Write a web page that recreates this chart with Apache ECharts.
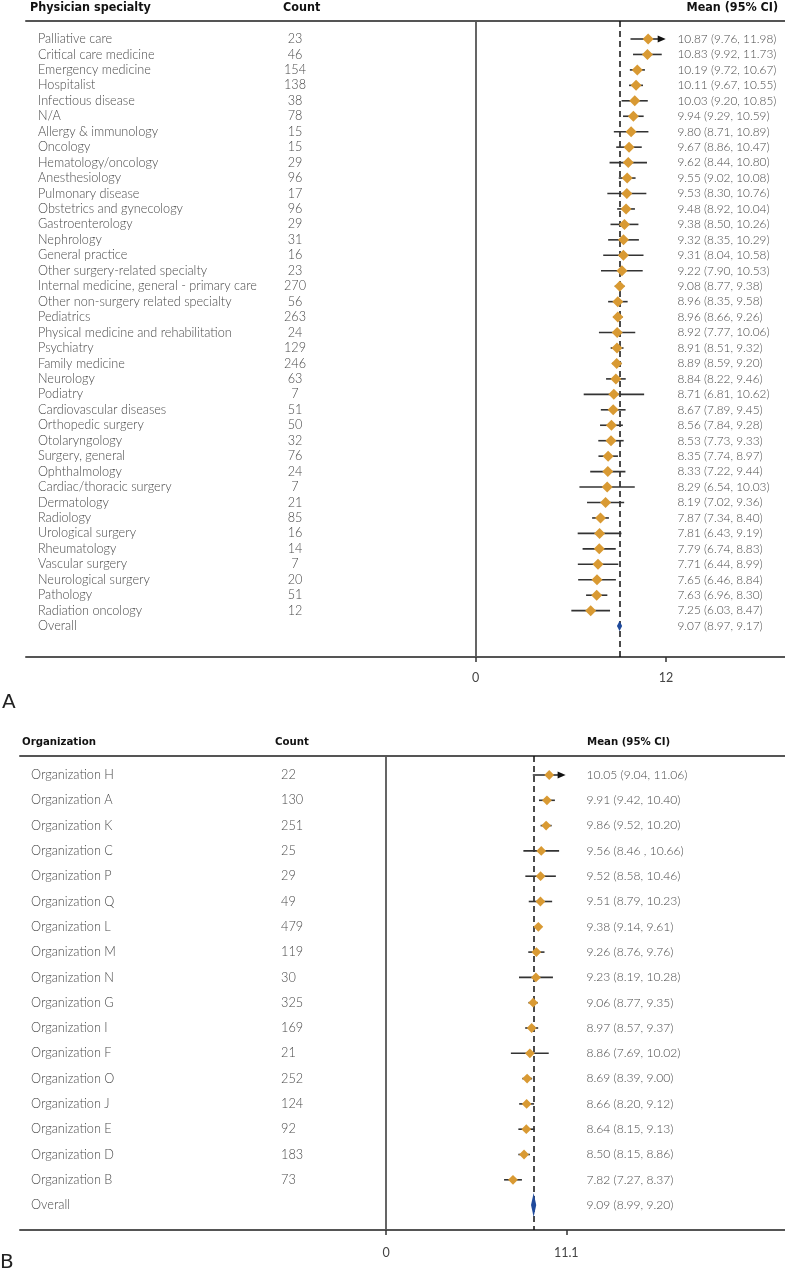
<!DOCTYPE html>
<html>
<head>
<meta charset="utf-8">
<script src="https://cdn.jsdelivr.net/npm/echarts@6/dist/echarts.min.js"></script>
<style>
html,body{margin:0;padding:0;background:#fff;}
#chart{width:785px;height:1275px;}
</style>
</head>
<body>
<div id="chart"></div>
<script>
// ---------------- Panel A data ----------------
const specialties = ["Palliative care","Critical care medicine","Emergency medicine","Hospitalist","Infectious disease","N/A","Allergy & immunology","Oncology","Hematology/oncology","Anesthesiology","Pulmonary disease","Obstetrics and gynecology","Gastroenterology","Nephrology","General practice","Other surgery-related specialty","Internal medicine, general - primary care","Other non-surgery related specialty","Pediatrics","Physical medicine and rehabilitation","Psychiatry","Family medicine","Neurology","Podiatry","Cardiovascular diseases","Orthopedic surgery","Otolaryngology","Surgery, general","Ophthalmology","Cardiac/thoracic surgery","Dermatology","Radiology","Urological surgery","Rheumatology","Vascular surgery","Neurological surgery","Pathology","Radiation oncology"];
const countsA = [23,46,154,138,38,78,15,15,29,96,17,96,29,31,16,23,270,56,263,24,129,246,63,7,51,50,32,76,24,7,21,85,16,14,7,20,51,12];
const meansA = [10.87,10.83,10.19,10.11,10.03,9.94,9.80,9.67,9.62,9.55,9.53,9.48,9.38,9.32,9.31,9.22,9.08,8.96,8.96,8.92,8.91,8.89,8.84,8.71,8.67,8.56,8.53,8.35,8.33,8.29,8.19,7.87,7.81,7.79,7.71,7.65,7.63,7.25];
const lowsA = [9.76,9.92,9.72,9.67,9.20,9.29,8.71,8.86,8.44,9.02,8.30,8.92,8.50,8.35,8.04,7.90,8.77,8.35,8.66,7.77,8.51,8.59,8.22,6.81,7.89,7.84,7.73,7.74,7.22,6.54,7.02,7.34,6.43,6.74,6.44,6.46,6.96,6.03];
const highsA = [11.98,11.73,10.67,10.55,10.85,10.59,10.89,10.47,10.80,10.08,10.76,10.04,10.26,10.29,10.58,10.53,9.38,9.58,9.26,10.06,9.32,9.20,9.46,10.62,9.45,9.28,9.33,8.97,9.44,10.03,9.36,8.40,9.19,8.83,8.99,8.84,8.30,8.47];
const overallA = {mean: 9.07, low: 8.97, high: 9.17};
const arrowRowsA = ["Palliative care"];
const ticksA = [0, 12];

// ---------------- Panel B data ----------------
const orgs = ["Organization H","Organization A","Organization K","Organization C","Organization P","Organization Q","Organization L","Organization M","Organization N","Organization G","Organization I","Organization F","Organization O","Organization J","Organization E","Organization D","Organization B"];
const countsB = [22,130,251,25,29,49,479,119,30,325,169,21,252,124,92,183,73];
const meansB = [10.05,9.91,9.86,9.56,9.52,9.51,9.38,9.26,9.23,9.06,8.97,8.86,8.69,8.66,8.64,8.50,7.82];
const lowsB = [9.04,9.42,9.52,8.46,8.58,8.79,9.14,8.76,8.19,8.77,8.57,7.69,8.39,8.20,8.15,8.15,7.27];
const highsB = [11.06,10.40,10.20,10.66,10.46,10.23,9.61,9.76,10.28,9.35,9.37,10.02,9.00,9.12,9.13,8.86,8.37];
const overallB = {mean: 9.09, low: 8.99, high: 9.20};
const arrowRowsB = ["Organization H"];
const ticksB = [0, 11.1];
const ciTextOverrideB = {"Organization C": "9.56 (8.46 , 10.66)"};

// ---------------- layout ----------------
const LA = {zeroX: 475.7, ppu: 15.86, left: 26, right: 785, top: 21, bottom: 657, row0: 39, step: 15.45,
  labelX: 38, countX: 295, countAlign: 'center', ciX: 677.5, diamond: 5.5, overallH: 5,
  headY: 8, headLabel: 'Physician specialty', headLabelX: 30, headCountX: 283, headCIX: 686.5, letter: 'A', letterY: 703, letterX: 2, labelMargin: 14};
const LB = {zeroX: 386, ppu: 16.24, left: 20, right: 785, top: 756, bottom: 1230, row0: 775, step: 25.3,
  labelX: 31, countX: 281, countAlign: 'left', ciX: 586.5, diamond: 4.9, overallH: 12,
  headY: 742, headLabel: 'Organization', headLabelX: 22, headCountX: 275, headCIX: 587, letter: 'B', letterY: 1263, letterX: 0, labelMargin: 16};

const ORANGE = '#D99A33', BLUE = '#1F4A9C', LINE = '#333', TXT = '#4a4a4a';
const BODY_FONT = 'Lato, "Open Sans", sans-serif';
const HEAD_FONT = '"DejaVu Sans Condensed", Roboto, sans-serif';

const ctx = document.createElement('canvas').getContext('2d');
function fitSize(text, weight, family, target){
  ctx.font = weight + ' 100px ' + family;
  const w = ctx.measureText(text).width;
  return Math.max(9, Math.min(16, 100 * target / w));
}
const fsLabelA = fitSize("Internal medicine, general - primary care", 300, BODY_FONT, 219);
const fsCIA = fitSize("10.87 (9.76, 11.98)", 300, BODY_FONT, 99);
const fsLabelB = fitSize("Organization H", 300, BODY_FONT, 83);
const fsCIB = fitSize("10.05 (9.04, 11.06)", 300, BODY_FONT, 101);
const fsHeadA = fitSize("Physician specialty", 'bold', HEAD_FONT, 121);
const fsHeadB = fitSize("Organization", 'bold', HEAD_FONT, 74);

function fmt(v){ return v.toFixed(2); }
function ciText(m, l, h){ return fmt(m) + ' (' + fmt(l) + ', ' + fmt(h) + ')'; }

function buildPanel(L, names, counts, means, lows, highs, overall, arrows, ticks, override, fsLabel, fsCI, fsHead, gi){
  const xMin = (L.left - L.zeroX) / L.ppu, xMax = (L.right - L.zeroX) / L.ppu;
  const yMin = (L.top - L.row0) / L.step, yMax = (L.bottom - L.row0) / L.step;
  const grid = {left: L.left, top: L.top, width: L.right - L.left, height: L.bottom - L.top, containLabel: false};
  const xBottom = {type: 'value', gridIndex: gi, position: 'bottom', min: xMin, max: xMax,
    axisLine: {show: true, onZero: false, lineStyle: {color: '#555', width: 2}},
    axisTick: {show: true, customValues: ticks, length: 5, lineStyle: {color: '#333', width: 1.5}},
    axisLabel: {show: true, customValues: ticks, color: '#444', fontSize: 12.5, fontFamily: BODY_FONT, margin: L.labelMargin,
      formatter: v => String(v)},
    splitLine: {show: false}};
  const xTop = {type: 'value', gridIndex: gi, position: 'top', min: xMin, max: xMax,
    axisLine: {show: true, onZero: false, lineStyle: {color: '#555', width: 2}},
    axisTick: {show: false}, axisLabel: {show: false}, splitLine: {show: false}};
  const yAx = {type: 'value', gridIndex: gi, inverse: true, min: yMin, max: yMax, show: false};

  const rows = names.length;
  const forestData = names.map((n, i) => [lows[i], highs[i], means[i], i, arrows.includes(n) ? 2 : 0]);
  forestData.push([overall.low, overall.high, overall.mean, rows, 1]);

  const textData = names.map((n, i) => [0, i]);
  textData.push([0, rows]);
  const allNames = names.concat(['Overall']);
  const ciStrings = names.map((n, i) => override[n] || ciText(means[i], lows[i], highs[i]));
  ciStrings.push(ciText(overall.mean, overall.low, overall.high));

  const xIdx = gi * 2, yIdx = gi;

  const textSeries = {
    type: 'custom', coordinateSystem: 'cartesian2d', xAxisIndex: xIdx, yAxisIndex: yIdx, clip: false, z: 2, silent: true,
    data: textData,
    renderItem: (params, api) => {
      const i = api.value(1);
      const y = api.coord([0, i])[1];
      const mk = (txt, x, align, size) => ({type: 'text', style: {text: txt, x: x, y: y, fill: TXT,
        fontSize: size, fontFamily: BODY_FONT, fontWeight: 300, align: align, textAlign: align, verticalAlign: 'middle', textVerticalAlign: 'middle'}});
      const ch = [mk(allNames[i], L.labelX, 'left', fsLabel), mk(ciStrings[i], L.ciX, 'left', fsCI)];
      if (i < rows) ch.push(mk(String(counts[i]), L.countX, L.countAlign, fsLabel));
      return {type: 'group', children: ch};
    },
    markLine: {silent: true, symbol: ['none', 'none'], label: {show: false}, animation: false,
      data: [
        {xAxis: 0, lineStyle: {type: 'solid', color: '#555', width: 1.8}},
        {xAxis: overall.mean, lineStyle: {type: [6, 4], color: '#111', width: 1.5}}
      ]}
  };

  const forestSeries = {
    type: 'custom', coordinateSystem: 'cartesian2d', xAxisIndex: xIdx, yAxisIndex: yIdx, clip: false, z: 5, silent: true,
    data: forestData,
    renderItem: (params, api) => {
      const lo = api.value(0), hi = api.value(1), m = api.value(2), row = api.value(3), kind = api.value(4);
      const pl = api.coord([lo, row]), ph = api.coord([hi, row]), pm = api.coord([m, row]);
      const y = pl[1];
      const ch = [];
      if (kind === 1) {
        let xl = pl[0], xh = ph[0];
        if (xh - xl < 5) { const c = pm[0]; xl = c - 2.6; xh = c + 2.6; }
        ch.push({type: 'polygon', shape: {points: [[xl, y], [pm[0], y - L.overallH], [xh, y], [pm[0], y + L.overallH]]},
          style: {fill: BLUE}});
      } else {
        const end = kind === 2 ? ph[0] - 7 : ph[0];
        ch.push({type: 'line', shape: {x1: pl[0], y1: y, x2: end, y2: y}, style: {stroke: LINE, lineWidth: 1.6}});
        if (kind === 2) {
          ch.push({type: 'polygon', shape: {points: [[ph[0], y], [ph[0] - 8, y - 3.6], [ph[0] - 8, y + 3.6]]}, style: {fill: '#111'}});
        }
        const d = L.diamond;
        ch.push({type: 'polygon', shape: {points: [[pm[0] - d, y], [pm[0], y - d], [pm[0] + d, y], [pm[0], y + d]]},
          style: {fill: ORANGE}});
      }
      return {type: 'group', children: ch};
    }
  };

  const headStyle = (t) => ({text: t, fill: '#111', fontSize: fsHead, fontFamily: HEAD_FONT, fontWeight: 'bold', verticalAlign: 'middle', textVerticalAlign: 'middle'});
  const graphics = [
    {type: 'text', x: L.headLabelX, y: L.headY, style: headStyle(L.headLabel)},
    {type: 'text', x: L.headCountX, y: L.headY, style: headStyle('Count')},
    {type: 'text', x: L.headCIX, y: L.headY, style: headStyle('Mean (95% CI)')},
    {type: 'text', x: L.letterX, y: L.letterY, style: {text: L.letter, fill: '#222', fontSize: 20, fontFamily: '"DejaVu Sans", sans-serif', verticalAlign: 'middle', textVerticalAlign: 'middle'}}
  ];

  return {grid, xAxes: [xBottom, xTop], yAxis: yAx, series: [textSeries, forestSeries], graphics};
}

const pA = buildPanel(LA, specialties, countsA, meansA, lowsA, highsA, overallA, arrowRowsA, ticksA, {}, fsLabelA, fsCIA, fsHeadA, 0);
const pB = buildPanel(LB, orgs, countsB, meansB, lowsB, highsB, overallB, arrowRowsB, ticksB, ciTextOverrideB, fsLabelB, fsCIB, fsHeadB, 1);

const chart = echarts.init(document.getElementById('chart'), null, {renderer: 'canvas'});
chart.setOption({
  animation: false,
  backgroundColor: '#fff',
  grid: [pA.grid, pB.grid],
  xAxis: pA.xAxes.concat(pB.xAxes),
  yAxis: [pA.yAxis, pB.yAxis],
  series: pA.series.concat(pB.series),
  graphic: pA.graphics.concat(pB.graphics)
});
</script>
</body>
</html>
